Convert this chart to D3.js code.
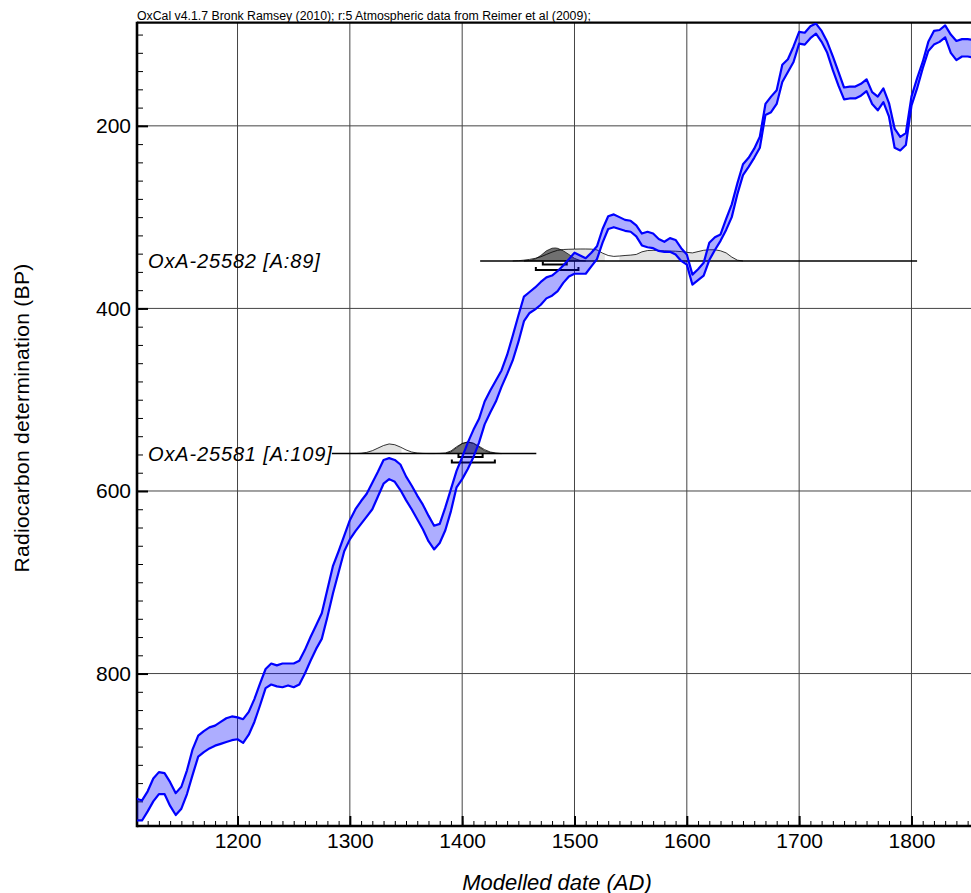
<!DOCTYPE html>
<html><head><meta charset="utf-8">
<script src="https://cdn.jsdelivr.net/npm/d3@7"></script>
<style>body{margin:0;background:#fff}</style>
</head><body><svg id="c" width="971" height="893"></svg>
<script>
// ---- Calibration curve (IntCal09 band, 1-sigma edges in BP) ----
const curveStartYear = 1110, curveStep = 5;
const curveTop = [937,939,929,915,908,909,919,931,924,906,883,868,863,859,857,853,849,847,848,850,
842,828,811,795,789,791,789,789,789,786,774,760,747,734,708,682,666,649,632,620,
611,603,591,579,566,564,566,571,584,594,605,615,627,638,636,618,598,578,563,547,
533,521,502,490,479,468,451,430,408,387,382,377,371,366,364,359,353,346,339,342,
345,339,332,313,299,297,300,303,304,309,318,316,318,324,327,323,325,334,341,363,
357,350,328,322,319,302,286,263,242,235,225,212,176,168,161,133,127,113,97,98,
91,88,96,108,124,141,158,157,157,154,149,163,168,159,175,203,212,208,168,148,
130,108,96,95,90,100,107,105,105,106];
const curveBottom = [961,961,951,940,932,932,945,955,948,932,911,891,886,882,879,877,875,873,872,876,
867,853,835,816,812,814,815,813,815,812,800,786,773,762,738,712,689,666,653,644,
636,628,620,606,592,587,590,599,610,620,631,642,655,664,657,643,622,596,587,576,
563,547,527,514,502,486,472,457,437,414,405,401,396,389,386,381,372,365,362,362,
362,354,346,328,313,311,313,315,316,321,331,333,334,337,338,338,341,348,352,374,
369,364,347,336,326,314,300,275,254,245,235,224,188,185,176,152,141,130,110,111,
104,99,108,120,139,156,171,170,170,167,162,176,183,174,190,224,227,221,178,159,
137,118,111,108,103,120,128,124,124,125];
const curveYears = curveTop.map((_, i) => curveStartYear + i * curveStep);

// ---- Samples ----
const sampleNames = ["OxA-25581 [A:109]", "OxA-25582 [A:89]"];
const sampleBP = [559, 348];
const sampleSpan = [[1284, 1466], [1416, 1805]];

const like1Years = [1305,1310,1315,1320,1325,1330,1335,1340,1345,1350,1355,1360,1365,1370,1375,1380,1385,1390,1395,1400,1405,1410,1415,1420,1425,1430,1435];
const like1Dens  = [0,0.02,0.09,0.22,0.42,0.62,0.74,0.68,0.5,0.28,0.12,0.04,0.01,0,0,0.01,0.04,0.2,0.52,0.78,0.89,0.8,0.56,0.3,0.12,0.04,0];
const post1Years = [1385,1390,1395,1400,1405,1410,1415,1420,1425,1430,1435];
const post1Dens  = [0,0.13,0.45,0.76,0.89,0.78,0.5,0.22,0.07,0.01,0];
const lightFill1 = [[1305, 1346]];

const like2Years = [1445,1450,1455,1460,1465,1470,1475,1480,1485,1490,1495,1500,1505,1510,1515,1520,1525,1530,1535,1540,1545,1550,1555,1560,1565,1570,1575,1580,1585,1590,1595,1600,1605,1610,1615,1620,1625,1630,1635,1640,1645,1650];
const like2Dens  = [0,0.02,0.06,0.12,0.2,0.32,0.5,0.68,0.82,0.88,0.9,0.91,0.92,0.92,0.91,0.85,0.6,0.42,0.35,0.38,0.42,0.45,0.5,0.7,0.8,0.82,0.8,0.78,0.76,0.75,0.72,0.66,0.62,0.72,0.82,0.86,0.86,0.78,0.62,0.3,0.06,0];
const post2Years = [1455,1460,1465,1470,1475,1480,1483,1485,1490,1495,1500,1505,1510];
const post2Dens  = [0,0.04,0.15,0.42,0.78,0.98,1.0,0.97,0.78,0.5,0.2,0.04,0];
const lightFill2 = [[1488, 1527], [1540, 1650]];

const range68 = [[1396.7, 1418.2], [1471.8, 1493.1]];
const range95 = [[1390.8, 1429.1], [1465.6, 1503.5]];

// ---- Axes ticks ----
const xMajor = [1200,1300,1400,1500,1600,1700,1800];
const xMinor = d3.range(1120, 1853, 10);
const yMajor = [200,400,600,800];
const yMinor = d3.range(100, 967, 20);

const header = "OxCal v4.1.7 Bronk Ramsey (2010); r:5 Atmospheric data from Reimer et al (2009);";
const xTitle = "Modelled date (AD)";
const yTitle = "Radiocarbon determination (BP)";

// ---- Layout ----
const L = 137, R = 971, T = 22.7, B = 826;
const x = d3.scaleLinear().domain([1110.5, 1853]).range([L, R]);
const y = d3.scaleLinear().domain([87, 967]).range([T, B]);
const dens = d3.scaleLinear().domain([0, 1]).range([0, 13]);

const svg = d3.select("#c");
const FONT = "'Liberation Sans', Arial, Helvetica, sans-serif";

svg.append("defs").append("clipPath").attr("id", "plot")
  .append("rect").attr("x", L).attr("y", T).attr("width", R - L).attr("height", B - T);

// grid
const grid = svg.append("g").attr("stroke", "#444").attr("stroke-width", 1);
grid.selectAll(".gx").data(xMajor).join("line")
  .attr("x1", d => x(d)).attr("x2", d => x(d)).attr("y1", T).attr("y2", B);
grid.selectAll(".gy").data(yMajor).join("line")
  .attr("y1", d => y(d)).attr("y2", d => y(d)).attr("x1", L).attr("x2", R);

// axes ticks
function styleAxis(g, w) {
  g.select(".domain").remove();
  g.selectAll(".tick line").attr("stroke", "#000").attr("stroke-width", w);
}
svg.append("g").attr("transform", `translate(0,${B})`)
  .call(d3.axisBottom(x).tickValues(xMinor).tickSize(-5).tickFormat(""))
  .call(g => styleAxis(g, 1));
svg.append("g").attr("transform", `translate(0,${B})`)
  .call(d3.axisBottom(x).tickValues(xMajor).tickSize(-10).tickPadding(7).tickFormat(d3.format("d")))
  .call(g => styleAxis(g, 2))
  .call(g => g.selectAll("text").attr("font-family", FONT).attr("font-size", 21).attr("fill", "#000"));
svg.append("g").attr("transform", `translate(${L},0)`)
  .call(d3.axisLeft(y).tickValues(yMinor).tickSize(-6).tickFormat(""))
  .call(g => styleAxis(g, 1));
svg.append("g").attr("transform", `translate(${L},0)`)
  .call(d3.axisLeft(y).tickValues(yMajor).tickSize(-11).tickPadding(6).tickFormat(d3.format("d")))
  .call(g => styleAxis(g, 2))
  .call(g => g.selectAll("text").attr("font-family", FONT).attr("font-size", 21).attr("fill", "#000"));

// frame
svg.append("line").attr("x1", L).attr("x2", R).attr("y1", T).attr("y2", T).attr("stroke", "#000").attr("stroke-width", 2.2);
svg.append("line").attr("x1", L).attr("x2", R).attr("y1", B).attr("y2", B).attr("stroke", "#000").attr("stroke-width", 2.6);
svg.append("line").attr("x1", L).attr("x2", L).attr("y1", T - 1).attr("y2", B + 1.3).attr("stroke", "#000").attr("stroke-width", 2.6);

// samples
const plot = svg.append("g").attr("clip-path", "url(#plot)");
const samples = [
  {ly: like1Years, ld: like1Dens, py: post1Years, pd: post1Dens, fill: lightFill1},
  {ly: like2Years, ld: like2Dens, py: post2Years, pd: post2Dens, fill: lightFill2}
];
samples.forEach((s, i) => {
  const base = y(sampleBP[i]);
  const g = plot.append("g");
  const likePts = s.ly.map((yr, k) => [yr, s.ld[k]]);
  const postPts = s.py.map((yr, k) => [yr, s.pd[k]]);
  const area = d3.area().x(d => x(d[0])).y0(base).y1(d => base - dens(d[1]));
  const line = d3.line().x(d => x(d[0])).y(d => base - dens(d[1]));
  s.fill.forEach((r, j) => {
    const id = `lf${i}_${j}`;
    svg.select("defs").append("clipPath").attr("id", id).append("rect")
      .attr("x", x(r[0])).attr("width", x(r[1]) - x(r[0])).attr("y", base - 30).attr("height", 31);
    g.append("path").datum(likePts).attr("d", area).attr("fill", "#e2e2e2").attr("clip-path", `url(#${id})`);
  });
  g.append("path").datum(postPts).attr("d", area).attr("fill", "#707070").attr("stroke", "#000").attr("stroke-width", 0.7);
  g.append("path").datum(likePts).attr("d", line).attr("fill", "none").attr("stroke", "#000").attr("stroke-width", 0.8);
  g.append("line").attr("x1", x(sampleSpan[i][0])).attr("x2", x(sampleSpan[i][1]))
    .attr("y1", base).attr("y2", base).attr("stroke", "#000").attr("stroke-width", 1.6);
  [[range68[i], 3.5], [range95[i], 9]].forEach(([r, off]) => {
    const yy = base + off;
    g.append("path")
      .attr("d", `M${x(r[0])},${yy - 3}V${yy}H${x(r[1])}V${yy - 3}`)
      .attr("fill", "none").attr("stroke", "#000").attr("stroke-width", 2);
  });
  svg.append("text").attr("x", 148).attr("y", base).attr("dominant-baseline", "central")
    .attr("font-family", FONT).attr("font-style", "italic").attr("font-size", 20)
    .attr("letter-spacing", 0.85).attr("fill", "#000").text(sampleNames[i]);
});

// calibration curve
const pts = curveYears.map((yr, i) => ({yr, top: curveTop[i], bot: curveBottom[i]}));
plot.append("path").datum(pts)
  .attr("d", d3.area().x(d => x(d.yr)).y0(d => y(d.bot)).y1(d => y(d.top)))
  .attr("fill", "rgba(0,0,255,0.32)");
["top", "bot"].forEach(k => {
  plot.append("path").datum(pts)
    .attr("d", d3.line().x(d => x(d.yr)).y(d => y(d[k])))
    .attr("fill", "none").attr("stroke", "#0000ff").attr("stroke-width", 2.2).attr("stroke-linejoin", "round");
});

// texts
svg.append("text").attr("x", L).attr("y", 19.5).attr("font-family", FONT).attr("font-size", 12.3).attr("fill", "#000").text(header);
svg.append("text").attr("x", 557).attr("y", 882).attr("text-anchor", "middle").attr("dominant-baseline", "central")
  .attr("font-family", FONT).attr("font-style", "italic").attr("font-size", 22).attr("fill", "#000").text(xTitle);
svg.append("text").attr("transform", "translate(21,418) rotate(-90)").attr("text-anchor", "middle").attr("dominant-baseline", "central")
  .attr("font-family", FONT).attr("font-size", 21).attr("letter-spacing", 0.3).attr("fill", "#000").text(yTitle);
</script></body></html>
